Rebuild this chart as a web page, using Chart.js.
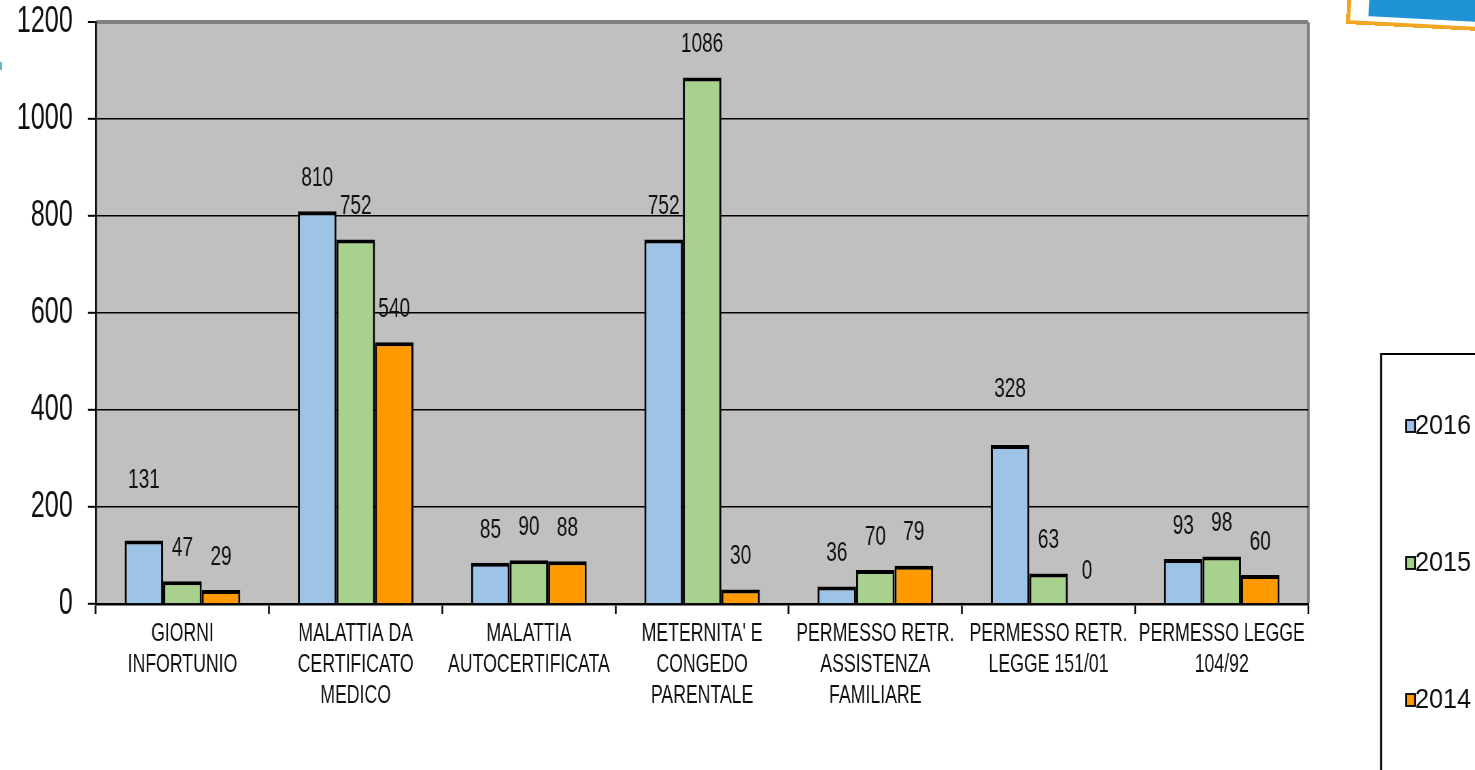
<!DOCTYPE html>
<html lang="it">
<head>
  <meta charset="UTF-8">
  <title>Giorni di assenza per tipologia 2014-2016</title>
  <script src="https://cdn.jsdelivr.net/npm/chart.js"></script>
  <style>
    html, body {
      margin: 0;
      padding: 0;
      background: #fff;
      overflow: hidden;
    }
    #stage {
      position: relative;
      width: 1475px;
      height: 770px;
      overflow: hidden;
    }
    /* the chart is laid out wide and then squeezed horizontally;
       it is also pulled up so the 1200 line sits near the top */
    #wrap {
      position: absolute;
      left: 0;
      top: -22px;
      width: 2169px;
      height: 792px;
      transform: scaleX(0.68);
      transform-origin: 0 0;
    }
    .badge {
      position: absolute;
      left: 1346px;
      top: -42px;
      width: 200px;
      height: 58px;
      border: 4px solid #f2a623;
      background: #fff;
      transform: rotate(3deg);
      transform-origin: 0 100%;
    }
    .badge div {
      position: absolute;
      left: 18px;
      top: 0;
      right: 0;
      bottom: 5px;
      background: #1f93d5;
    }
    .dot {
      position: absolute;
      left: 0;
      top: 62px;
      width: 2px;
      height: 8px;
      background: #6ab3d3;
    }
  </style>
</head>
<body>
  <div id="stage">
    <div id="wrap">
      <canvas id="assenze-chart" width="2169" height="792"></canvas>
    </div>
    <div class="badge"><div></div></div>
    <div class="dot"></div>
  </div>
  <script>
    const SQUEEZE = 0.68;
    const SHIFT_Y = 22;
    const FONT = '"Liberation Sans", Arial, sans-serif';

    const categories = [
      ['GIORNI', 'INFORTUNIO'],
      ['MALATTIA DA', 'CERTIFICATO', 'MEDICO'],
      ['MALATTIA', 'AUTOCERTIFICATA'],
      ["METERNITA' E", 'CONGEDO', 'PARENTALE'],
      ['PERMESSO RETR.', 'ASSISTENZA', 'FAMILIARE'],
      ['PERMESSO RETR.', 'LEGGE 151/01'],
      ['PERMESSO LEGGE', '104/92']
    ];
    const seriesNames = ['2016', '2015', '2014'];
    const values2016 = [131, 810, 85, 752, 36, 328, 93];
    const values2015 = [47, 752, 90, 1086, 70, 63, 98];
    const values2014 = [29, 540, 88, 30, 79, 0, 60];
    const yMax = 1200;
    const yStep = 200;

    const seriesColors = ['#9dc3e6', '#a9d18e', '#ff9900'];
    // a couple of labels sit higher above their bar
    const labelRaise = { '0-0': 27, '0-5': 23 };

    const plotBackground = {
      id: 'plotBackground',
      beforeDraw(chart) {
        const { ctx, chartArea: a } = chart;
        ctx.save();
        ctx.fillStyle = '#c0c0c0';
        ctx.fillRect(a.left, a.top, a.right - a.left, a.bottom - a.top);
        ctx.restore();
      }
    };

    const valueLabels = {
      id: 'valueLabels',
      afterDatasetsDraw(chart) {
        const ctx = chart.ctx;
        ctx.save();
        ctx.font = '28px ' + FONT;
        ctx.fillStyle = '#111';
        ctx.textAlign = 'center';
        ctx.textBaseline = 'middle';
        chart.data.datasets.forEach((ds, d) => {
          chart.getDatasetMeta(d).data.forEach((bar, i) => {
            const lift = 33 + (labelRaise[d + '-' + i] || 0);
            ctx.fillText(String(ds.data[i]), bar.x, bar.y - lift);
          });
        });
        ctx.restore();
      }
    };

    // legend box on the right, drawn in page pixels
    const sideLegend = {
      id: 'sideLegend',
      afterDraw(chart) {
        const ctx = chart.ctx;
        ctx.save();
        ctx.scale(1 / SQUEEZE, 1);
        ctx.translate(0, SHIFT_Y);
        ctx.strokeStyle = '#000';
        ctx.lineWidth = 2;
        ctx.beginPath();
        ctx.moveTo(1381, 800);
        ctx.lineTo(1381, 354);
        ctx.lineTo(1500, 354);
        ctx.stroke();

        chart.data.datasets.forEach((ds, i) => {
          const y = 425 + i * 137;
          ctx.fillStyle = ds.backgroundColor;
          ctx.fillRect(1406, y - 5, 9, 12);
          ctx.lineWidth = 1.8;
          ctx.strokeRect(1406, y - 5, 9, 12);
          ctx.save();
          ctx.translate(1415, y);
          ctx.scale(0.9, 1);
          ctx.fillStyle = '#111';
          ctx.font = '28px ' + FONT;
          ctx.textBaseline = 'middle';
          ctx.fillText(ds.label, 0, 1);
          ctx.restore();
        });
        ctx.restore();
      }
    };

    new Chart(document.getElementById('assenze-chart'), {
      type: 'bar',
      data: {
        labels: categories,
        datasets: [values2016, values2015, values2014].map((vals, i) => ({
          label: seriesNames[i],
          data: vals,
          backgroundColor: seriesColors[i],
          borderColor: '#000',
          borderWidth: { top: 4, left: 3, right: 3, bottom: 0 },
          categoryPercentage: 0.667,
          barPercentage: 1.0
        }))
      },
      options: {
        responsive: false,
        animation: false,
        devicePixelRatio: 1,
        layout: { padding: { top: 0, right: 245, left: 0, bottom: 0 } },
        plugins: {
          legend: { display: false },
          tooltip: { enabled: false }
        },
        scales: {
          x: {
            offset: true,
            grid: {
              offset: true,
              color: c => c.tick ? 'rgba(0,0,0,0)' : '#808080',
              lineWidth: c => c.tick ? 1 : 4,
              tickColor: '#000',
              tickLength: 10,
              tickWidth: 2.5
            },
            border: { color: '#000', width: 2.5 },
            ticks: {
              color: '#111',
              font: { family: FONT, size: 26, lineHeight: 1.2 },
              padding: 4,
              maxRotation: 0,
              autoSkip: false
            },
            afterFit(scale) { scale.height = 166; }
          },
          y: {
            min: 0,
            max: yMax,
            ticks: {
              stepSize: yStep,
              color: '#111',
              font: { family: FONT, size: 37 },
              padding: 22,
              callback: v => String(v)
            },
            grid: {
              color: c => c.tick && c.tick.value === yMax ? '#808080' : '#000',
              lineWidth: c => c.tick && c.tick.value === yMax ? 4 : 1.6,
              tickColor: '#000',
              tickLength: 12,
              tickWidth: 2
            },
            border: { color: '#000', width: 2.5 },
            afterFit(scale) { scale.width = 141; }
          }
        }
      },
      plugins: [plotBackground, valueLabels, sideLegend]
    });
  </script>
</body>
</html>
